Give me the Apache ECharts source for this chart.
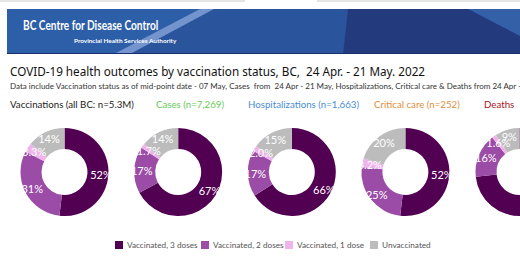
<!DOCTYPE html>
<html><head><meta charset="utf-8">
<script src="https://cdn.jsdelivr.net/npm/echarts@6/dist/echarts.min.js"></script>
<style>html,body{margin:0;padding:0;background:#fff}#c{width:520px;height:272px}</style>
</head><body><div id="c"></div>
<script>
const statuses = ['Vaccinated, 3 doses', 'Vaccinated, 2 doses', 'Vaccinated, 1 dose', 'Unvaccinated'];
const colors = ['#520052', '#9a4ca6', '#f0b4ec', '#bcbcbc'];
const groups = ['Vaccinations (all BC: n=5.3M)', 'Cases (n=7,269)', 'Hospitalizations (n=1,663)', 'Critical care (n=252)', 'Deaths'];
const groupColors = ['#222222', '#66cc55', '#4a8cd6', '#e08e3c', '#a8161c'];
const vaccinations = [52, 31, 3.3, 14];
const cases = [67, 17, 1.7, 14];
const hospitalizations = [66, 17, 2.0, 15];
const criticalCare = [52, 25, 3.2, 20];
const deaths = [73, 16, 1.6, 9];
const seriesValues = [vaccinations, cases, hospitalizations, criticalCare, deaths];
const labelText = [
  ['52%', '31%', '3.3%', '14%'],
  ['67%', '17%', '1.7%', '14%'],
  ['66%', '17%', '2.0%', '15%'],
  ['52%', '25%', '3.2%', '20%'],
  ['73%', '16%', '1.6%', '9%']
];
const title = 'COVID-19 health outcomes by vaccination status, BC,  24 Apr. - 21 May. 2022';
const subtitle = 'Data include Vaccination status as of mid-point date - 07 May, Cases  from  24 Apr - 21 May, Hospitalizations, Critical care & Deaths from 24 Apr - 21 May';

const chart = echarts.init(document.getElementById('c'), null, {renderer: 'svg'});
const centersX = [64.5, 178.2, 291.8, 405.4, 519.5];
const headerX = [10, 156, 248, 374, 484];
const legendX = [110, 196, 280, 365];
const FONT = 'Lato';

const series = seriesValues.map((vals, gi) => ({
  type: 'pie',
  center: [centersX[gi], 172],
  radius: [23, 44],
  startAngle: 90,
  clockwise: true,
  silent: true,
  avoidLabelOverlap: false,
  label: {
    show: true, position: 'inside', color: '#fff', fontSize: 11, fontFamily: FONT,
    formatter: p => labelText[gi][p.dataIndex]
  },
  labelLine: {show: false},
  labelLayout: {hideOverlap: false},
  itemStyle: {borderWidth: 0},
  data: vals.map((v, i) => ({name: statuses[i], value: v, itemStyle: {color: colors[i]}}))
}));

const legends = statuses.map((s, i) => ({
  left: legendX[i], top: 236, itemWidth: 8, itemHeight: 8, icon: 'rect', itemGap: 0,
  data: [s], selectedMode: false,
  textStyle: {fontSize: 8.2, color: '#555', fontFamily: FONT, padding: [0, 0, 0, -1]}
}));

const graphic = [
  {type: 'rect', shape: {x: 0, y: 0, width: 245, height: 2}, style: {fill: '#e4e4e4'}},
  {type: 'rect', shape: {x: 317, y: 0, width: 203, height: 2}, style: {fill: '#e4e4e4'}},
  {type: 'rect', shape: {x: 7, y: 9, width: 513, height: 45}, style: {fill: '#2d5ea8'}},
  {type: 'polygon', shape: {points: [[212, 9], [348, 9], [343, 54], [125, 54]]}, style: {fill: '#2a549c'}},
  {type: 'polygon', shape: {points: [[200, 9], [214, 9], [130, 54], [114, 54]]}, style: {fill: '#7394cc'}},
  {type: 'polygon', shape: {points: [[348, 9], [520, 9], [520, 54], [343, 54]]}, style: {fill: '#233a7c'}},
  {type: 'polygon', shape: {points: [[468, 9], [520, 9], [520, 36]]}, style: {fill: '#3460a8'}},
  {type: 'rect', shape: {x: 7, y: 53, width: 513, height: 1}, style: {fill: '#1b2f6a'}},
  {type: 'text', x: 23, y: 18, scaleX: 0.75, style: {text: 'BC Centre for Disease Control', fill: '#fff', font: 'bold 13.5px Lato'}},
  {type: 'text', left: 74, top: 37.5, style: {text: 'Provincial Health Services Authority', fill: '#fff', font: 'bold 6.4px Lato'}},
  {type: 'text', x: 10, y: 65, scaleX: 0.9, style: {text: title, fill: '#111', font: '13px "Noto Sans"'}},
  {type: 'text', left: 10, top: 82, style: {text: subtitle, fill: '#333', font: '8px Lato'}}
].concat(groups.map((g, i) => ({
  type: 'text', left: headerX[i], top: 98.5, style: {text: g, fill: groupColors[i], font: '9.7px Lato'}
})));

chart.setOption({
  animation: false,
  color: colors,
  legend: legends,
  series: series,
  graphic: graphic
});
</script></body></html>
